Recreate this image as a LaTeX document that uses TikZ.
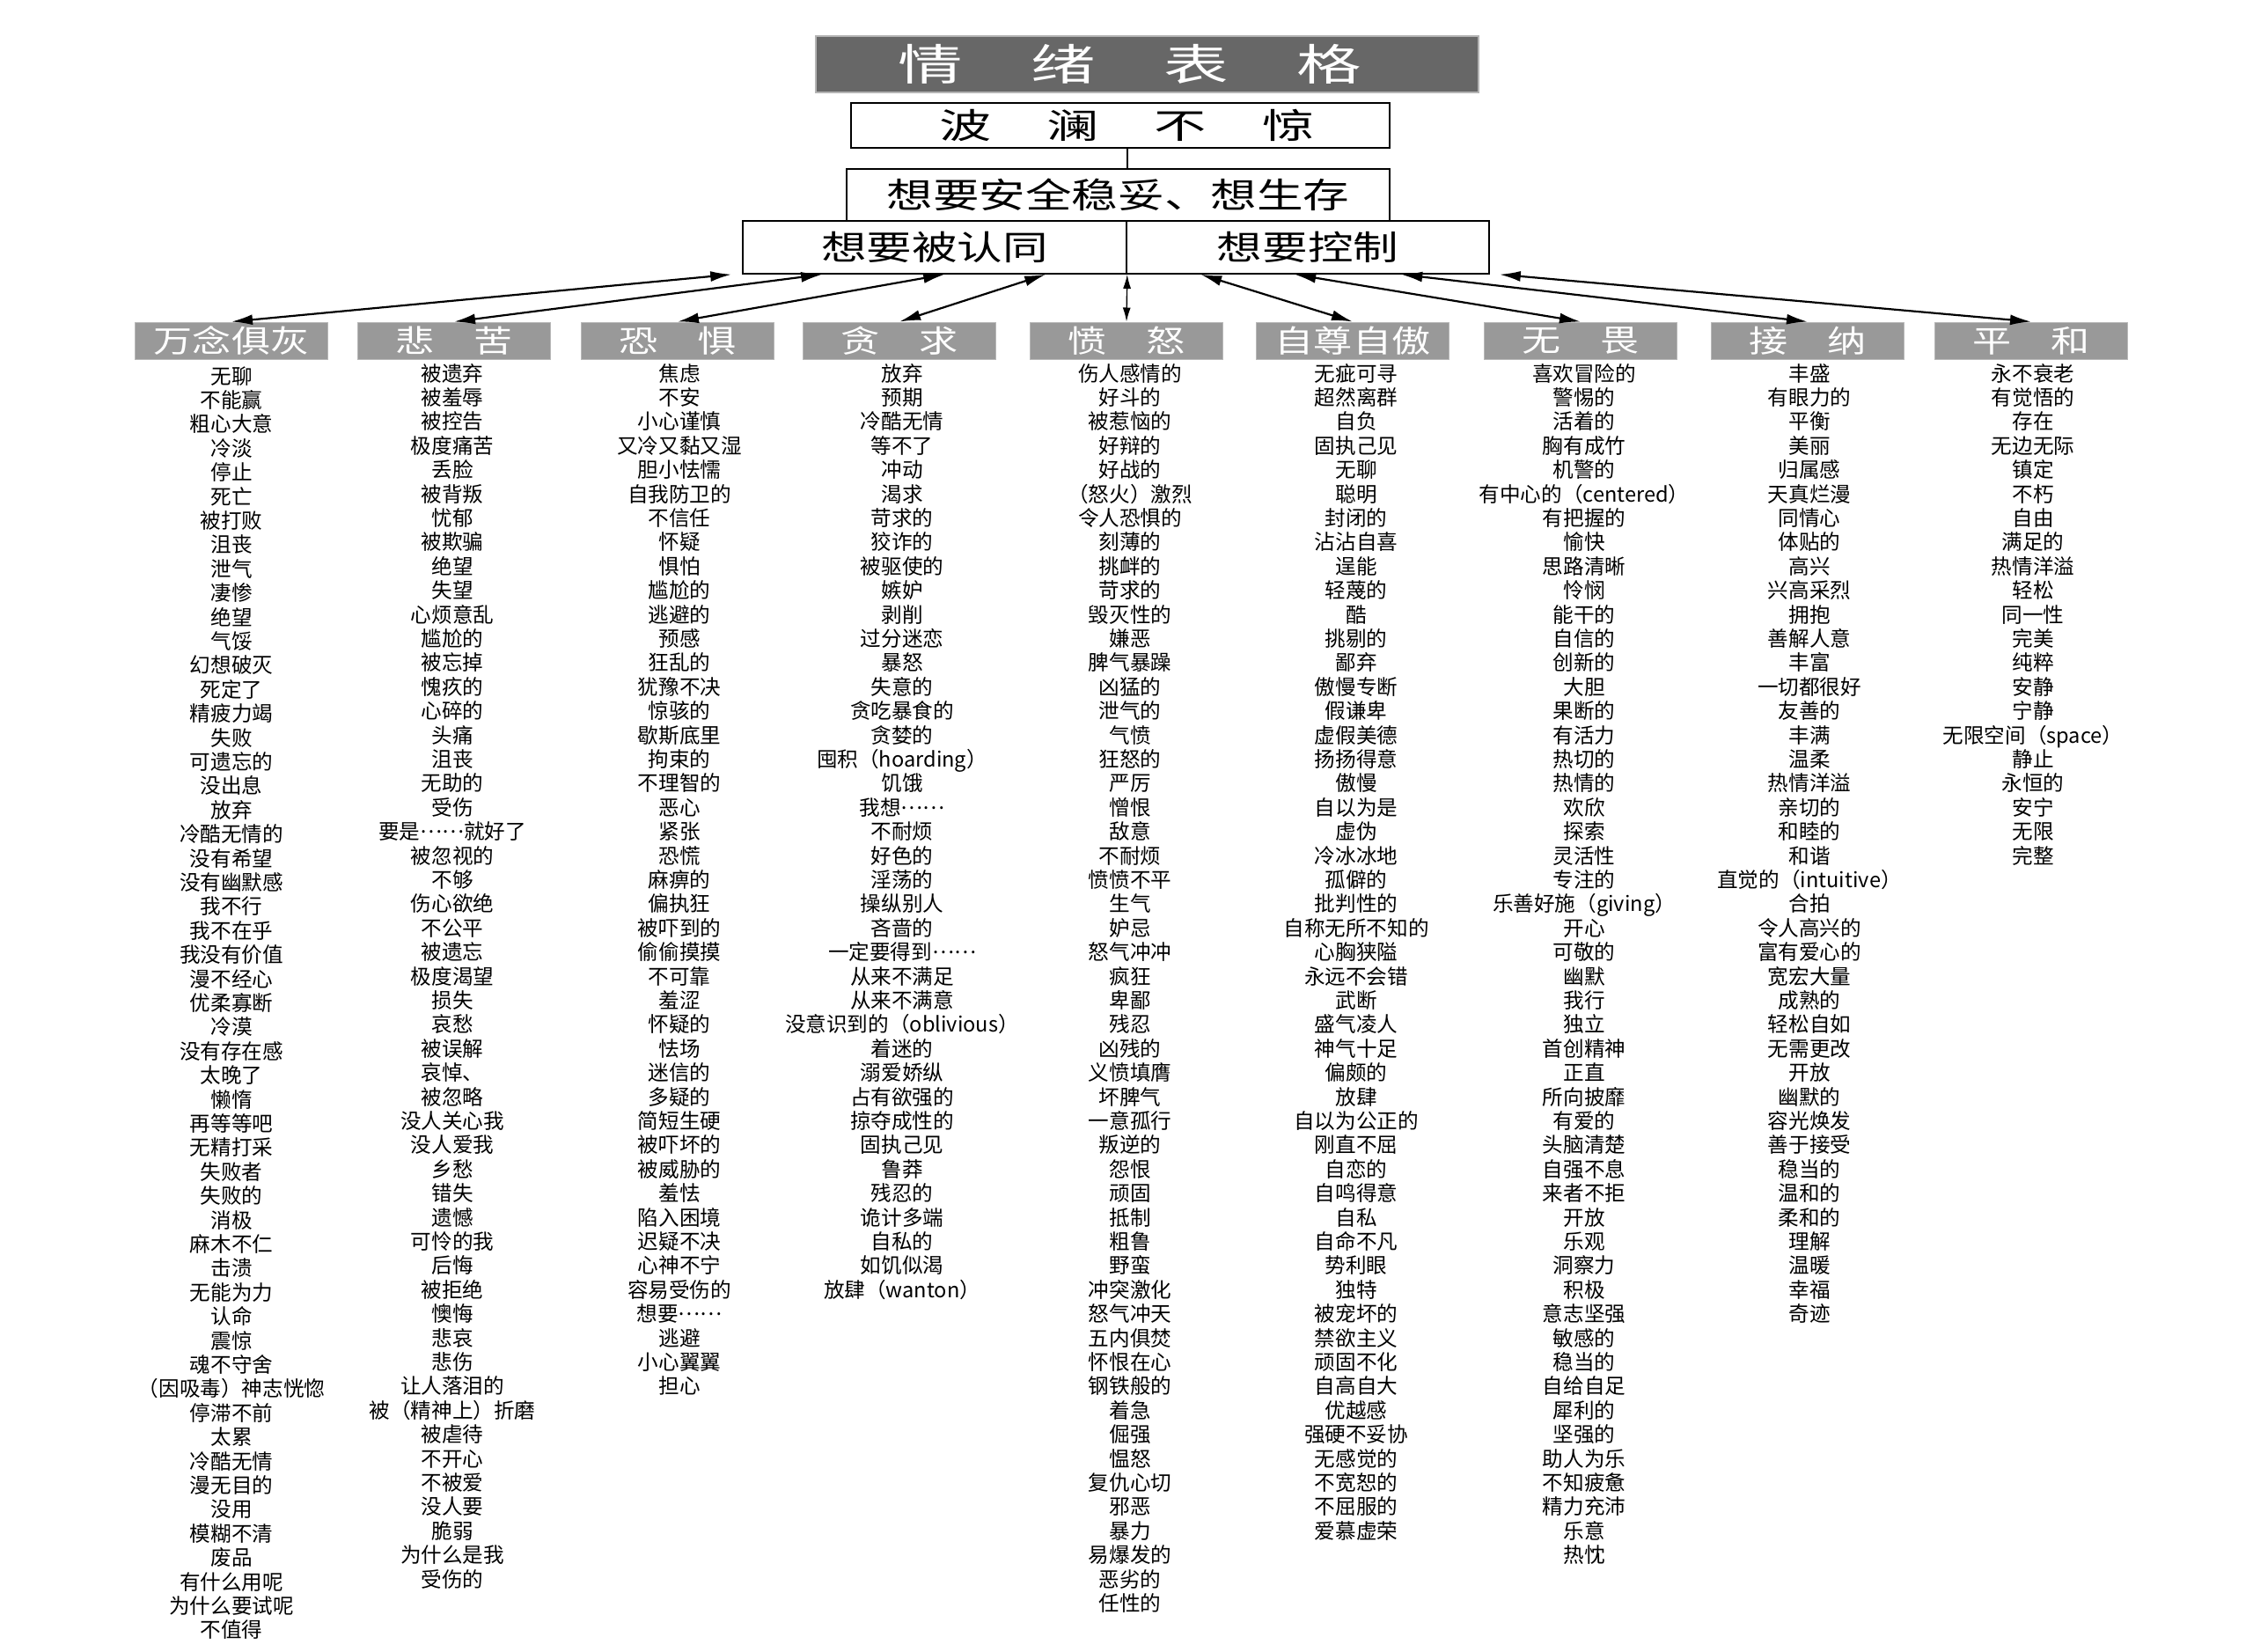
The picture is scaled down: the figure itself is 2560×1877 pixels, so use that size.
\documentclass[tikz,border=0pt]{standalone}
\usepackage{fontspec}
\setmainfont{Noto Sans CJK SC}
\usepackage{graphicx}
\usetikzlibrary{arrows.meta}
\definecolor{titlegray}{HTML}{676767}
\definecolor{catgray}{HTML}{999999}
\definecolor{edgegray}{HTML}{B4B4B4}
\tikzset{
  hdrbox/.style={draw=black, line width=1.6pt, fill=white, inner sep=0pt, rectangle},
  titlebox/.style={draw=edgegray, line width=2pt, fill=titlegray, inner sep=0pt, text=white,
    font=\fontsize{49pt}{50pt}\selectfont},
  catbox/.style={fill=catgray, draw=catgray!70!white, line width=1pt, minimum width=219pt,
    minimum height=42pt, inner sep=0pt, text=white, font=\fontsize{35pt}{36pt}\selectfont},
  item/.style={anchor=base, inner sep=0pt, font=\fontsize{23.6pt}{27.4pt}\selectfont},
  biarrow/.style={line width=2.2pt, {Latex[length=24pt,width=12pt]}-{Latex[length=24pt,width=12pt]}},
  thinarrow/.style={line width=1.4pt, {Latex[length=16pt,width=9pt]}-{Latex[length=16pt,width=9pt]}},
}
\newcommand\mydots{\raisebox{0.3em}{……}}
\newcommand\emocol[4]{\foreach \t [count=\i] in {#4} {\node[item] (#1-\i) at (#2, {#3+(\i-1)*27.4}) {\t};}}
\begin{document}
\begin{tikzpicture}[x=1pt, y=-1pt]
\useasboundingbox[fill=white] (0,0) rectangle (2560,1877);

% header boxes
\node[titlebox, minimum width=753pt, minimum height=64pt] (title) at (1303.5,73)
  {\scalebox{1.5}[1]{情\hspace{51.7pt}绪\hspace{51.7pt}表\hspace{51.7pt}格}\hspace*{40pt}};
\node[hdrbox, minimum width=612pt, minimum height=51pt, font=\fontsize{39.5pt}{40pt}\selectfont] (bolan) at (1273,142.5)
  {\hspace*{15pt}\scalebox{1.5}[1]{波\hspace{42pt}澜\hspace{42pt}不\hspace{42pt}惊}};
\node[hdrbox, minimum width=617pt, minimum height=59pt, font=\fontsize{39.5pt}{40pt}\selectfont] (safe) at (1270.5,221.5)
  {\scalebox{1.33}[1]{想要安全稳妥、想生存}};
\node[hdrbox, minimum width=436pt, minimum height=60pt, font=\fontsize{38.5pt}{39pt}\selectfont] (recog) at (1062,281)
  {\scalebox{1.34}[1]{想要被认同}};
\node[hdrbox, minimum width=412pt, minimum height=60pt, font=\fontsize{38.5pt}{39pt}\selectfont] (ctrl) at (1486,281)
  {\scalebox{1.34}[1]{想要控制}};
\draw[line width=1.4pt] (bolan.south -| recog.east) -- (safe.north -| recog.east);

% category boxes
\node[catbox] (cat1) at (263,387) {\scalebox{1.26}[1]{万念俱灰}};
\node[catbox] (cat2) at (516,387) {\scalebox{1.26}[1]{悲　苦}};
\node[catbox] (cat3) at (770,387) {\scalebox{1.26}[1]{恐　惧}};
\node[catbox] (cat4) at (1022,387) {\scalebox{1.26}[1]{贪　求}};
\node[catbox] (cat5) at (1280,387) {\scalebox{1.26}[1]{愤　怒}};
\node[catbox] (cat6) at (1537,387) {\scalebox{1.26}[1]{自尊自傲}};
\node[catbox] (cat7) at (1796,387) {\scalebox{1.26}[1]{无　畏}};
\node[catbox] (cat8) at (2054,387) {\scalebox{1.26}[1]{接　纳}};
\node[catbox] (cat9) at (2308,387) {\scalebox{1.26}[1]{平　和}};

% arrows
\draw[biarrow] ([xshift=-12pt]recog.south west) -- (cat1.north);
\draw[biarrow] ([xshift=91pt]recog.south west) -- (cat2.north);
\draw[biarrow] ([xshift=230pt]recog.south west) -- (cat3.north);
\draw[biarrow] ([xshift=345pt]recog.south west) -- (cat4.north);
\draw[thinarrow] (recog.south east) -- (cat5.north);
\draw[biarrow] ([xshift=85pt]ctrl.south west) -- (cat6.north);
\draw[biarrow] ([xshift=192pt]ctrl.south west) -- (cat7.north);
\draw[biarrow] ([xshift=313pt]ctrl.south west) -- (cat8.north);
\draw[biarrow] ([xshift=11pt]ctrl.south east) -- (cat9.north);

% lists
\emocol{a}{263}{436}{无聊,不能赢,粗心大意,冷淡,停止,死亡,被打败,沮丧,泄气,凄惨,绝望,气馁,幻想破灭,死定了,精疲力竭,失败,可遗忘的,没出息,放弃,冷酷无情的,没有希望,没有幽默感,我不行,我不在乎,我没有价值,漫不经心,优柔寡断,冷漠,没有存在感,太晚了,懒惰,再等等吧,无精打采,失败者,失败的,消极,麻木不仁,击溃,无能为力,认命,震惊,魂不守舍,（因吸毒）神志恍惚,停滞不前,太累,冷酷无情,漫无目的,没用,模糊不清,废品,有什么用呢,为什么要试呢,不值得}
\emocol{b}{514}{433}{被遗弃,被羞辱,被控告,极度痛苦,丢脸,被背叛,忧郁,被欺骗,绝望,失望,心烦意乱,尴尬的,被忘掉,愧疚的,心碎的,头痛,沮丧,无助的,受伤,要是\mydots 就好了,被忽视的,不够,伤心欲绝,不公平,被遗忘,极度渴望,损失,哀愁,被误解,哀悼、,被忽略,没人关心我,没人爱我,乡愁,错失,遗憾,可怜的我,后悔,被拒绝,懊悔,悲哀,悲伤,让人落泪的,被（精神上）折磨,被虐待,不开心,不被爱,没人要,脆弱,为什么是我,受伤的}
\emocol{c}{772}{433}{焦虑,不安,小心谨慎,又冷又黏又湿,胆小怯懦,自我防卫的,不信任,怀疑,惧怕,尴尬的,逃避的,预感,狂乱的,犹豫不决,惊骇的,歇斯底里,拘束的,不理智的,恶心,紧张,恐慌,麻痹的,偏执狂,被吓到的,偷偷摸摸,不可靠,羞涩,怀疑的,怯场,迷信的,多疑的,简短生硬,被吓坏的,被威胁的,羞怯,陷入困境,迟疑不决,心神不宁,容易受伤的,想要\mydots,逃避,小心翼翼,担心}
\emocol{d}{1025}{433}{放弃,预期,冷酷无情,等不了,冲动,渴求,苛求的,狡诈的,被驱使的,嫉妒,剥削,过分迷恋,暴怒,失意的,贪吃暴食的,贪婪的,囤积（hoarding）,饥饿,我想\mydots,不耐烦,好色的,淫荡的,操纵别人,吝啬的,一定要得到\mydots,从来不满足,从来不满意,没意识到的（oblivious）,着迷的,溺爱娇纵,占有欲强的,掠夺成性的,固执己见,鲁莽,残忍的,诡计多端,自私的,如饥似渴,放肆（wanton）}
\emocol{e}{1284}{433}{伤人感情的,好斗的,被惹恼的,好辩的,好战的,（怒火）激烈,令人恐惧的,刻薄的,挑衅的,苛求的,毁灭性的,嫌恶,脾气暴躁,凶猛的,泄气的,气愤,狂怒的,严厉,憎恨,敌意,不耐烦,愤愤不平,生气,妒忌,怒气冲冲,疯狂,卑鄙,残忍,凶残的,义愤填膺,坏脾气,一意孤行,叛逆的,怨恨,顽固,抵制,粗鲁,野蛮,冲突激化,怒气冲天,五内俱焚,怀恨在心,钢铁般的,着急,倔强,愠怒,复仇心切,邪恶,暴力,易爆发的,恶劣的,任性的}
\emocol{f}{1541}{433}{无疵可寻,超然离群,自负,固执己见,无聊,聪明,封闭的,沾沾自喜,逞能,轻蔑的,酷,挑剔的,鄙弃,傲慢专断,假谦卑,虚假美德,扬扬得意,傲慢,自以为是,虚伪,冷冰冰地,孤僻的,批判性的,自称无所不知的,心胸狭隘,永远不会错,武断,盛气凌人,神气十足,偏颇的,放肆,自以为公正的,刚直不屈,自恋的,自鸣得意,自私,自命不凡,势利眼,独特,被宠坏的,禁欲主义,顽固不化,自高自大,优越感,强硬不妥协,无感觉的,不宽恕的,不屈服的,爱慕虚荣}
\emocol{g}{1800}{433}{喜欢冒险的,警惕的,活着的,胸有成竹,机警的,有中心的（centered）,有把握的,愉快,思路清晰,怜悯,能干的,自信的,创新的,大胆,果断的,有活力,热切的,热情的,欢欣,探索,灵活性,专注的,乐善好施（giving）,开心,可敬的,幽默,我行,独立,首创精神,正直,所向披靡,有爱的,头脑清楚,自强不息,来者不拒,开放,乐观,洞察力,积极,意志坚强,敏感的,稳当的,自给自足,犀利的,坚强的,助人为乐,不知疲惫,精力充沛,乐意,热忱}
\emocol{h}{2056}{433}{丰盛,有眼力的,平衡,美丽,归属感,天真烂漫,同情心,体贴的,高兴,兴高采烈,拥抱,善解人意,丰富,一切都很好,友善的,丰满,温柔,热情洋溢,亲切的,和睦的,和谐,直觉的（intuitive）,合拍,令人高兴的,富有爱心的,宽宏大量,成熟的,轻松自如,无需更改,开放,幽默的,容光焕发,善于接受,稳当的,温和的,柔和的,理解,温暖,幸福,奇迹}
\emocol{i}{2310}{433}{永不衰老,有觉悟的,存在,无边无际,镇定,不朽,自由,满足的,热情洋溢,轻松,同一性,完美,纯粹,安静,宁静,无限空间（space）,静止,永恒的,安宁,无限,完整}
\end{tikzpicture}
\end{document}
